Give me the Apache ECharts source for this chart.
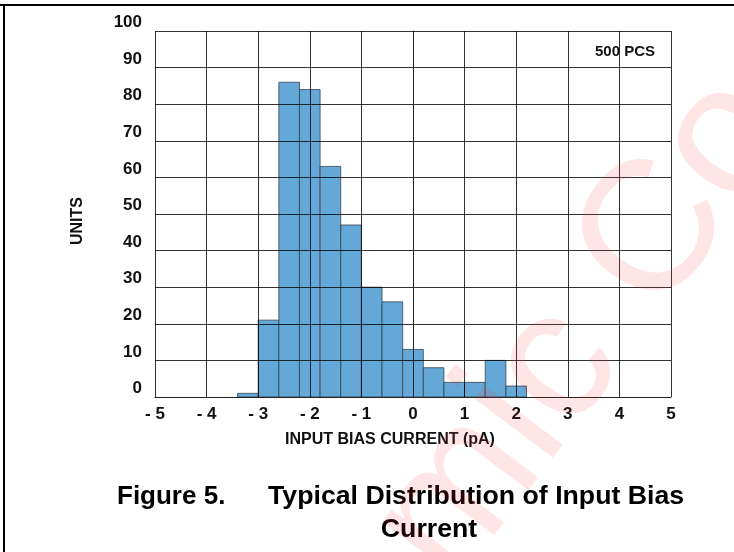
<!DOCTYPE html>
<html>
<head>
<meta charset="utf-8">
<script src="https://cdn.jsdelivr.net/npm/echarts@6/dist/echarts.min.js"></script>
<style>
html,body{margin:0;padding:0;background:#fff;}
#c{width:734px;height:552px;}
</style>
</head>
<body>
<div id="c"></div>
<script>
// Histogram bins (pA) and counts
var binLow  = [-3.4, -3.0, -2.6, -2.2, -1.8, -1.4, -1.0, -0.6, -0.2, 0.2, 0.6, 1.0, 1.4, 1.8];
var binHigh = [-3.0, -2.6, -2.2, -1.8, -1.4, -1.0, -0.6, -0.2, 0.2, 0.6, 1.0, 1.4, 1.8, 2.2];
var counts  = [1, 21, 86, 84, 63, 47, 30, 26, 13, 8, 4, 4, 10, 3];
var xTickValues = [-5, -4, -3, -2, -1, 0, 1, 2, 3, 4, 5];
var xTickLabels = ['- 5', '- 4', '- 3', '- 2', '- 1', '0', '1', '2', '3', '4', '5'];
var yTickLabels = ['0', '10', '20', '30', '40', '50', '60', '70', '80', '90', '100'];

var NARROW = '"Liberation Sans Narrow", "Arial Narrow", "Liberation Sans", Arial, sans-serif';
var ARIAL = '"Liberation Sans", Arial, sans-serif';

var data = binLow.map(function (lo, i) { return [lo, binHigh[i], counts[i]]; });

var chart = echarts.init(document.getElementById('c'), null, {renderer: 'canvas'});
chart.setOption({
  animation: false,
  backgroundColor: '#fff',
  grid: {left: 155, right: 63, top: 31, bottom: 155, containLabel: false},
  xAxis: {
    type: 'value', min: -5, max: 5, interval: 1, z: 5,
    axisLine: {show: true, onZero: false, lineStyle: {color: '#222', width: 1}},
    axisTick: {show: false},
    splitLine: {show: true, lineStyle: {color: 'rgba(0,0,0,0.8)', width: 1}},
    axisLabel: {
      margin: 9, color: '#111', fontFamily: NARROW, fontWeight: 'bold', fontSize: 17,
      formatter: function (v) { var i = xTickValues.indexOf(v); return i >= 0 ? xTickLabels[i] : ''; }
    }
  },
  yAxis: {
    type: 'value', min: 0, max: 100, interval: 10, z: 5,
    axisLine: {show: true, lineStyle: {color: '#222', width: 1}},
    axisTick: {show: false},
    splitLine: {show: true, lineStyle: {color: 'rgba(0,0,0,0.8)', width: 1}},
    axisLabel: {
      margin: 13, color: '#111', fontFamily: NARROW, fontWeight: 'bold', fontSize: 17,
      verticalAlign: 'bottom',
      formatter: function (v) { return yTickLabels[Math.round(v / 10)]; }
    }
  },
  series: [{
    type: 'custom', z: 2,
    data: data,
    encode: {x: [0, 1], y: 2},
    renderItem: function (params, api) {
      var p0 = api.coord([api.value(0), api.value(2)]);
      var p1 = api.coord([api.value(1), 0]);
      return {
        type: 'rect',
        shape: {x: p0[0], y: p0[1], width: p1[0] - p0[0], height: p1[1] - p0[1]},
        style: {fill: '#63a8d7', stroke: 'rgba(50,60,70,0.75)', lineWidth: 1}
      };
    }
  }],
  graphic: [
    {type: 'rect', shape: {x: 0, y: 4, width: 734, height: 2}, style: {fill: '#000'}, z: 20},
    {type: 'rect', shape: {x: 3, y: 4, width: 2, height: 548}, style: {fill: '#000'}, z: 20},
    {type: 'text', x: 655, y: 52, z: 20,
      style: {text: '500 PCS', fontFamily: NARROW, fontWeight: 'bold', fontSize: 15, fill: '#111',
        textAlign: 'right', textVerticalAlign: 'middle'}},
    {type: 'text', x: 78, y: 221, rotation: Math.PI / 2, z: 20,
      style: {text: 'UNITS', fontFamily: NARROW, fontWeight: 'bold', fontSize: 16, fill: '#111',
        textAlign: 'center', textVerticalAlign: 'middle'}},
    {type: 'text', x: 390, y: 440, z: 20,
      style: {text: 'INPUT BIAS CURRENT (pA)', fontFamily: NARROW, fontWeight: 'bold', fontSize: 16, fill: '#111',
        textAlign: 'center', textVerticalAlign: 'middle'}},
    {type: 'text', x: 117, y: 497, z: 20,
      style: {text: 'Figure 5.', fontFamily: ARIAL, fontWeight: 'bold', fontSize: 26, fill: '#000',
        textAlign: 'left', textVerticalAlign: 'middle'}},
    {type: 'text', x: 268, y: 497, z: 20,
      style: {text: 'Typical Distribution of Input Bias', fontFamily: ARIAL, fontWeight: 'bold', fontSize: 26.7, fill: '#000',
        textAlign: 'left', textVerticalAlign: 'middle'}},
    {type: 'text', x: 429, y: 530, z: 20,
      style: {text: 'Current', fontFamily: ARIAL, fontWeight: 'bold', fontSize: 26.7, fill: '#000',
        textAlign: 'center', textVerticalAlign: 'middle'}},
    {type: 'text', x: 585, y: 330, rotation: 53 * Math.PI / 180, z: 30, silent: true,
      style: {text: 'mic Co', fontFamily: ARIAL, fontSize: 185, fill: 'rgba(255,40,40,0.12)',
        textAlign: 'center', textVerticalAlign: 'middle'}}
  ]
});
</script>
</body>
</html>
